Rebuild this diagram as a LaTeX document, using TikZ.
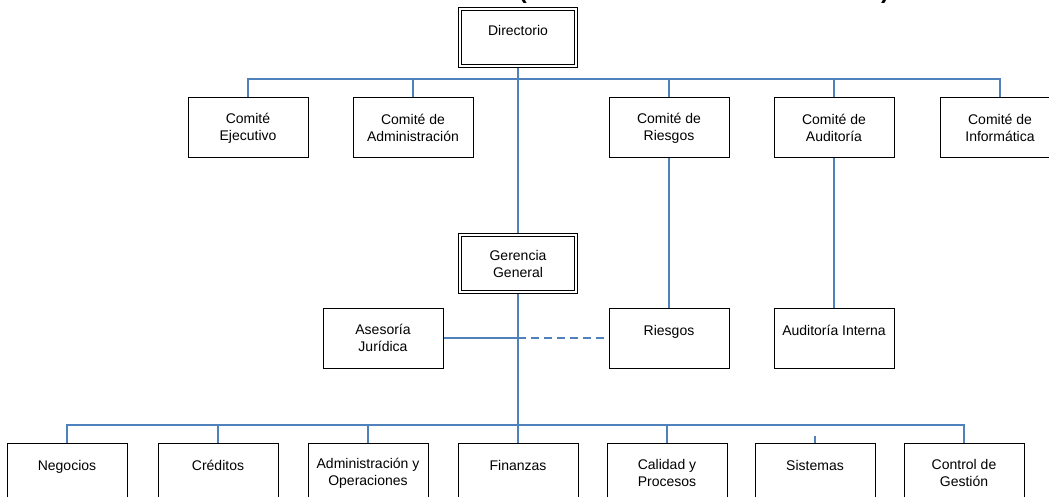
\documentclass[tikz,border=0pt]{standalone}
\usepackage{fontspec}
\setmainfont{Liberation Sans}
\definecolor{linkblue}{RGB}{79,129,189}
\begin{document}
\begin{tikzpicture}[x=1pt,y=-1pt,
  box/.style={draw=black, line width=1pt, minimum width=120pt, minimum height=60pt,
    inner sep=0pt, align=center, font=\fontsize{14}{17}\selectfont},
  dbox/.style={box, double, double distance=2pt, line width=0.9pt,
    minimum width=116pt, minimum height=57pt, outer sep=2pt},
  one/.style={text height=10pt, text depth=14.6pt},
  link/.style={draw=linkblue, line width=1.5pt},
  dlink/.style={link, dash pattern=on 8pt off 5pt},
  paren/.style={inner sep=0pt, font=\fontsize{24}{28}\selectfont\bfseries}]
\useasboundingbox (0,0) rectangle (1049,497);
\clip (0,0) rectangle (1049,497);

% clipped title fragments
\node[paren, anchor=south east] (tl) at (527,4) {(};
\node[paren, anchor=south west] (tr) at (881,4) {)};

% top level
\node[dbox, one] (dir) at (518,37.5) {Directorio};
\node[box] (ce)  at (248,128)  {Comité\\Ejecutivo};
\node[box] (ca)  at (413,128)  {Comité de\\Administración};
\node[box] (cr)  at (669,128)  {Comité de\\Riesgos};
\node[box] (cau) at (834,128)  {Comité de\\Auditoría};
\node[box] (ci)  at (1000,128) {Comité de\\Informática};

% middle
\node[dbox] (gg) at (518,263.5) {Gerencia\\General};
\node[box] (aj) at (383,338)  {Asesoría\\Jurídica};
\node[box, one] (ri) at (669,338) {Riesgos};
\node[box, one] (ai) at (834,338) {Auditoría Interna};

% bottom
\node[box, one] (neg) at (67,473)  {Negocios};
\node[box, one] (cre) at (218,473) {Créditos};
\node[box] (ado) at (368,473) {Administración y\\Operaciones};
\node[box, one] (fin) at (518,473) {Finanzas};
\node[box] (cal) at (667,473) {Calidad y\\Procesos};
\node[box, one] (sis) at (815,473) {Sistemas};
\node[box] (cg)  at (964,473) {Control de\\Gestión};

\coordinate (busA) at (518,79);
\coordinate (busB) at (518,425);
\coordinate (tick) at (815,436);

% connectors
\draw[link] (dir.south) -- (gg.north);
\draw[link] (ce.north) -- (ce.north |- busA) -- (ci.north |- busA) -- (ci.north);
\draw[link] (ca.north) -- (ca.north |- busA);
\draw[link] (cr.north) -- (cr.north |- busA);
\draw[link] (cau.north) -- (cau.north |- busA);
\draw[link] (cr.south) -- (ri.north);
\draw[link] (cau.south) -- (ai.north);

\draw[link] (gg.south) -- (fin.north);
\draw[link] (aj.east) -- (aj.east -| gg.south);
\draw[dlink] (aj.east -| gg.south) -- (ri.west);

\draw[link] (neg.north) -- (neg.north |- busB) -- (cg.north |- busB) -- (cg.north);
\draw[link] (cre.north) -- (cre.north |- busB);
\draw[link] (ado.north) -- (ado.north |- busB);
\draw[link] (cal.north) -- (cal.north |- busB);
\draw[link] (tick) -- (sis.north);
\end{tikzpicture}
\end{document}
